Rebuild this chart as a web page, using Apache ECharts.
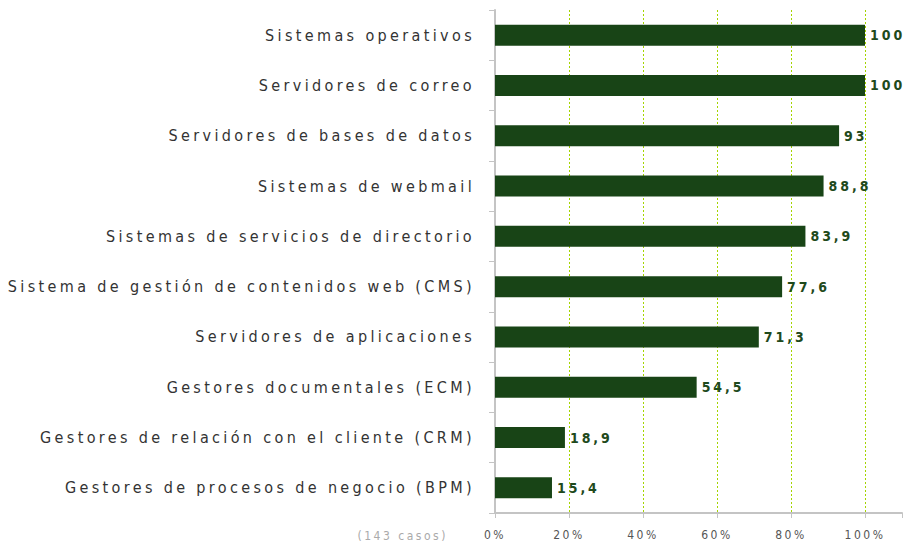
<!DOCTYPE html>
<html lang="es">
<head>
  <meta charset="utf-8">
  <title>Sistemas</title>
  <script src="https://cdn.jsdelivr.net/npm/echarts@6/dist/echarts.min.js"></script>
  <style>
    html, body { margin: 0; padding: 0; background: #fff; }
    #chart { width: 906px; height: 546px; }
    /* el original tiene el texto muy espaciado */
    #chart text { letter-spacing: 0.21em; }
  </style>
</head>
<body>
  <div id="chart"></div>
  <script>
    var categorias = [
      'Sistemas operativos',
      'Servidores de correo',
      'Servidores de bases de datos',
      'Sistemas de webmail',
      'Sistemas de servicios de directorio',
      'Sistema de gestión de contenidos web (CMS)',
      'Servidores de aplicaciones',
      'Gestores documentales (ECM)',
      'Gestores de relación con el cliente (CRM)',
      'Gestores de procesos de negocio (BPM)'
    ];
    var porcentajes = [100, 100, 93, 88.8, 83.9, 77.6, 71.3, 54.5, 18.9, 15.4];
    var nota = '(143 casos)';

    var fuente = '"DejaVu Sans Condensed", "Liberation Sans", sans-serif';
    var chart = echarts.init(document.getElementById('chart'), null, { renderer: 'svg' });

    chart.setOption({
      animation: false,
      grid: { left: 495, right: 4, top: 10, bottom: 33 },
      xAxis: {
        type: 'value',
        min: 0,
        max: 110,
        interval: 20,
        axisLine: { show: true, lineStyle: { color: '#c4c4c4', width: 2 } },
        axisTick: { show: true, length: 5, lineStyle: { color: '#c4c4c4' } },
        axisLabel: {
          margin: 16,
          color: '#555',
          fontSize: 12,
          fontFamily: fuente,
          formatter: function (v) { return v > 100 ? '' : v + '%'; }
        },
        splitLine: {
          show: true,
          showMinLine: false,
          showMaxLine: false,
          lineStyle: { color: '#a4d400', type: [2, 2], width: 1 }
        }
      },
      yAxis: {
        type: 'category',
        inverse: true,
        data: categorias,
        axisLine: { show: true, lineStyle: { color: '#c4c4c4', width: 2 } },
        axisTick: { show: true, length: 6, lineStyle: { color: '#c4c4c4' } },
        axisLabel: {
          margin: 20,
          color: '#333',
          fontSize: 16,
          fontFamily: fuente
        }
      },
      series: [{
        type: 'bar',
        data: porcentajes,
        barWidth: 21,
        itemStyle: { color: '#184416' },
        label: {
          show: true,
          position: 'right',
          distance: 5,
          color: '#1f4a1c',
          fontSize: 14,
          fontWeight: 'bold',
          fontFamily: fuente,
          formatter: function (p) { return String(p.value).replace('.', ','); }
        }
      }],
      graphic: [{
        type: 'text',
        x: 448,
        y: 536,
        style: {
          text: nota,
          fill: '#aaa',
          fontSize: 12,
          fontFamily: fuente,
          align: 'right',
          verticalAlign: 'middle'
        }
      }]
    });
  </script>
</body>
</html>
